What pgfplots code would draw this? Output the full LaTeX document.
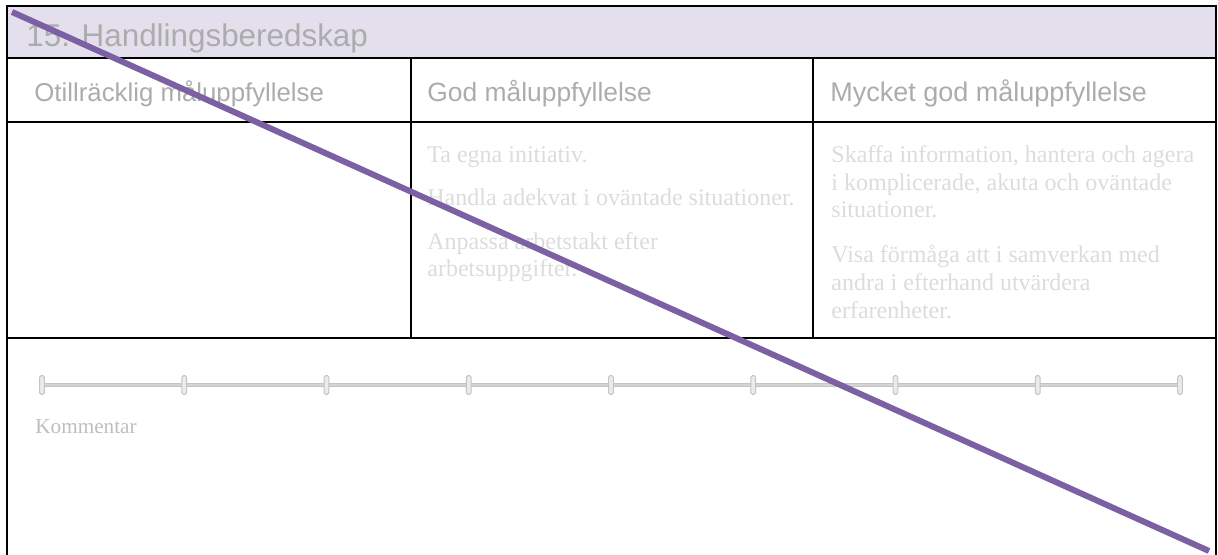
\documentclass[border=0pt]{standalone}
\usepackage{pgfplots}
\pgfplotsset{compat=1.18}
\usepackage{fontspec}
\setmainfont{Liberation Serif}
\newfontfamily\arial{Liberation Sans}
\definecolor{lav}{RGB}{228,223,236}
\definecolor{purp}{RGB}{123,96,163}
\definecolor{ttl}{RGB}{172,172,172}
\definecolor{bodyc}{RGB}{220,220,220}
\definecolor{komm}{RGB}{190,190,190}
\definecolor{slid}{RGB}{212,212,212}
\definecolor{slidd}{RGB}{196,196,196}
\pgfdeclareplotmark{slidertick}{%
  \pgfsetfillcolor{black!8}\pgfsetstrokecolor{slidd}\pgfsetlinewidth{0.5pt}%
  \pgfsetcornersarced{\pgfpoint{0.8pt}{0.8pt}}%
  \pgfpathrectangle{\pgfpoint{-1.2pt}{-4.7pt}}{\pgfpoint{2.4pt}{9.4pt}}%
  \pgfusepath{fill,stroke}}
\begin{document}
\begin{tikzpicture}
\useasboundingbox (0,0) rectangle (609pt,277.5pt);
\begin{axis}[
  at={(0,0)}, anchor=south west,
  scale only axis, width=609pt, height=277.5pt,
  xmin=0, xmax=1218, ymin=0, ymax=555, y dir=reverse,
  hide axis, clip=true,
]
% title band
\fill[lav] (axis cs:7,6) rectangle (axis cs:1216,58);
% borders
\draw[black, line width=1.4pt] (axis cs:7,570) -- (axis cs:7,6) -- (axis cs:1216,6) -- (axis cs:1216,570);
\draw[black, line width=1.4pt] (axis cs:7,58) -- (axis cs:1216,58);
\draw[black, line width=1.4pt] (axis cs:7,122) -- (axis cs:1216,122);
\draw[black, line width=1.4pt] (axis cs:7,338) -- (axis cs:1216,338);
\draw[black, line width=1.4pt] (axis cs:411,58) -- (axis cs:411,338);
\draw[black, line width=1.4pt] (axis cs:813,58) -- (axis cs:813,338);
% texts
\node[anchor=base west, inner sep=0pt, text=ttl, font=\arial\fontsize{15.7}{18}\selectfont] at (axis cs:26,47) {15. Handlingsberedskap};
\node[anchor=base west, inner sep=0pt, text=ttl, font=\arial\fontsize{12.9}{15}\selectfont] at (axis cs:34,102) {Otillräcklig måluppfyllelse};
\node[anchor=base west, inner sep=0pt, text=ttl, font=\arial\fontsize{13.2}{15}\selectfont] at (axis cs:427,102) {God måluppfyllelse};
\node[anchor=base west, inner sep=0pt, text=ttl, font=\arial\fontsize{13.5}{15}\selectfont] at (axis cs:830,102) {Mycket god måluppfyllelse};
\begin{scope}[every node/.style={anchor=base west, inner sep=0pt, text=bodyc, font=\fontsize{12}{14}\selectfont}]
\node at (axis cs:427,163) {Ta egna initiativ.};
\node at (axis cs:427,206) {Handla adekvat i oväntade situationer.};
\node at (axis cs:427,250) {Anpassa arbetstakt efter};
\node at (axis cs:427,277) {arbetsuppgifter.};
\node at (axis cs:831,163) {Skaffa information, hantera och agera};
\node at (axis cs:831,191) {i komplicerade, akuta och oväntade};
\node at (axis cs:831,218) {situationer.};
\node at (axis cs:831,263) {Visa förmåga att i samverkan med};
\node at (axis cs:831,291) {andra i efterhand utvärdera};
\node at (axis cs:831,319) {erfarenheter.};
\end{scope}
\node[anchor=base west, inner sep=0pt, text=komm, font=\fontsize{10.6}{12}\selectfont] at (axis cs:35,433) {Kommentar};
% slider
\addplot[draw=slidd, line width=2.2pt, forget plot] coordinates {(42,385) (1180,385)};
\addplot[draw=slid, line width=1.2pt, mark=slidertick, forget plot] coordinates {(42,385) (184.25,385) (326.5,385) (468.75,385) (611,385) (753.25,385) (895.5,385) (1037.75,385) (1180,385)};
% diagonal line
\addplot[draw=purp, line width=3pt, forget plot] coordinates {(12,12) (1209,551)};
\end{axis}
\end{tikzpicture}
\end{document}
